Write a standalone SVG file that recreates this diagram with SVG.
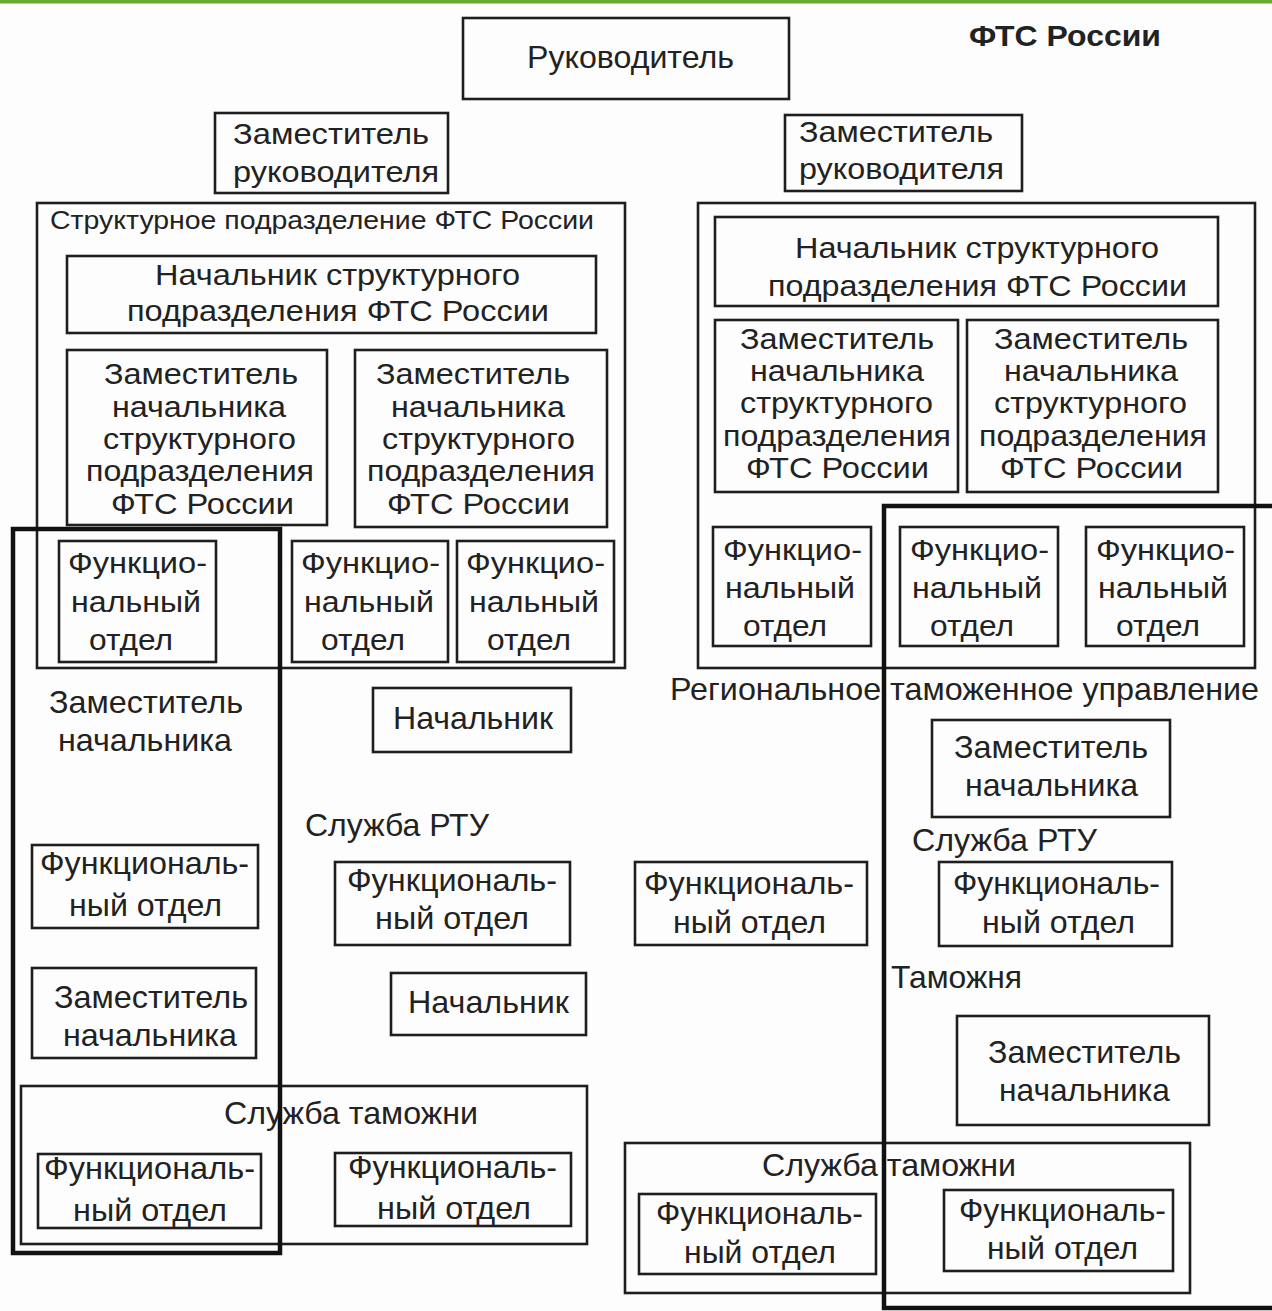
<svg xmlns="http://www.w3.org/2000/svg" width="1272" height="1311" viewBox="0 0 1272 1311">
<style>
.bg{fill:#fdfdfd}
.box{fill:none;stroke:#1e1e1e;stroke-width:2.6}
.thick{fill:none;stroke:#111;stroke-width:4.5}
text{font-family:"Liberation Sans",Arial,sans-serif;font-size:30px;fill:#222}
.big{font-size:32px}
.sm{font-size:25px}
.b{font-weight:bold;font-size:30px}
</style>
<rect class="bg" x="0" y="0" width="1272" height="1311"/>
<rect x="0" y="0" width="1272" height="3.5" fill="#69a934"/>

<g id="title"><text class="b" x="969" y="46" textLength="192" lengthAdjust="spacingAndGlyphs">ФТС России</text></g>

<g id="head">
<rect class="box" x="463" y="18" width="326" height="81"/>
<text class="big" x="527" y="68" textLength="207" lengthAdjust="spacingAndGlyphs">Руководитель</text>
</g>

<g id="deputy-left">
<rect class="box" x="215" y="113" width="233" height="80"/>
<text x="233" y="144" textLength="196" lengthAdjust="spacingAndGlyphs">Заместитель</text>
<text x="233" y="182" textLength="206" lengthAdjust="spacingAndGlyphs">руководителя</text>
</g>

<g id="deputy-right">
<rect class="box" x="785" y="115" width="237" height="76"/>
<text x="799" y="142" textLength="194" lengthAdjust="spacingAndGlyphs">Заместитель</text>
<text x="799" y="179" textLength="205" lengthAdjust="spacingAndGlyphs">руководителя</text>
</g>

<g id="struct-left">
<rect class="box" x="37" y="203" width="588" height="465"/>
<text class="sm" x="50" y="229" textLength="544" lengthAdjust="spacingAndGlyphs">Структурное подразделение ФТС России</text>
</g>

<g id="chief-struct-left">
<rect class="box" x="67" y="256" width="529" height="77"/>
<text x="155" y="285" textLength="365" lengthAdjust="spacingAndGlyphs">Начальник структурного</text>
<text x="127" y="321" textLength="422" lengthAdjust="spacingAndGlyphs">подразделения ФТС России</text>
</g>

<g id="dep-struct-left-1">
<rect class="box" x="67" y="350" width="260" height="175"/>
<text x="104" y="384" textLength="194" lengthAdjust="spacingAndGlyphs">Заместитель</text>
<text x="112" y="417" textLength="174" lengthAdjust="spacingAndGlyphs">начальника</text>
<text x="103" y="449" textLength="193" lengthAdjust="spacingAndGlyphs">структурного</text>
<text x="86" y="481" textLength="228" lengthAdjust="spacingAndGlyphs">подразделения</text>
<text x="111" y="514" textLength="183" lengthAdjust="spacingAndGlyphs">ФТС России</text>
</g>

<g id="dep-struct-left-2">
<rect class="box" x="355" y="350" width="252" height="177"/>
<text x="376" y="384" textLength="194" lengthAdjust="spacingAndGlyphs">Заместитель</text>
<text x="391" y="417" textLength="174" lengthAdjust="spacingAndGlyphs">начальника</text>
<text x="382" y="449" textLength="193" lengthAdjust="spacingAndGlyphs">структурного</text>
<text x="367" y="481" textLength="228" lengthAdjust="spacingAndGlyphs">подразделения</text>
<text x="387" y="514" textLength="183" lengthAdjust="spacingAndGlyphs">ФТС России</text>
</g>

<g id="func-left-1">
<rect class="box" x="59" y="541" width="157" height="121"/>
<text x="68" y="573" textLength="139" lengthAdjust="spacingAndGlyphs">Функцио-</text>
<text x="71" y="612" textLength="130" lengthAdjust="spacingAndGlyphs">нальный</text>
<text x="89" y="650" textLength="84" lengthAdjust="spacingAndGlyphs">отдел</text>
</g>
<g id="func-left-2">
<rect class="box" x="292" y="541" width="156" height="121"/>
<text x="301" y="573" textLength="139" lengthAdjust="spacingAndGlyphs">Функцио-</text>
<text x="304" y="612" textLength="130" lengthAdjust="spacingAndGlyphs">нальный</text>
<text x="321" y="650" textLength="84" lengthAdjust="spacingAndGlyphs">отдел</text>
</g>
<g id="func-left-3">
<rect class="box" x="457" y="541" width="157" height="121"/>
<text x="466" y="573" textLength="139" lengthAdjust="spacingAndGlyphs">Функцио-</text>
<text x="469" y="612" textLength="130" lengthAdjust="spacingAndGlyphs">нальный</text>
<text x="487" y="650" textLength="84" lengthAdjust="spacingAndGlyphs">отдел</text>
</g>

<g id="struct-right">
<rect class="box" x="698" y="203" width="557" height="465"/>
</g>

<g id="chief-struct-right">
<rect class="box" x="715" y="217" width="503" height="89"/>
<text x="795" y="258" textLength="364" lengthAdjust="spacingAndGlyphs">Начальник структурного</text>
<text x="768" y="296" textLength="419" lengthAdjust="spacingAndGlyphs">подразделения ФТС России</text>
</g>

<g id="dep-struct-right-1">
<rect class="box" x="715" y="320" width="243" height="172"/>
<text x="740" y="349" textLength="194" lengthAdjust="spacingAndGlyphs">Заместитель</text>
<text x="750" y="381" textLength="174" lengthAdjust="spacingAndGlyphs">начальника</text>
<text x="740" y="413" textLength="193" lengthAdjust="spacingAndGlyphs">структурного</text>
<text x="723" y="446" textLength="228" lengthAdjust="spacingAndGlyphs">подразделения</text>
<text x="746" y="478" textLength="183" lengthAdjust="spacingAndGlyphs">ФТС России</text>
</g>

<g id="dep-struct-right-2">
<rect class="box" x="967" y="320" width="251" height="172"/>
<text x="994" y="349" textLength="194" lengthAdjust="spacingAndGlyphs">Заместитель</text>
<text x="1004" y="381" textLength="174" lengthAdjust="spacingAndGlyphs">начальника</text>
<text x="994" y="413" textLength="193" lengthAdjust="spacingAndGlyphs">структурного</text>
<text x="979" y="446" textLength="228" lengthAdjust="spacingAndGlyphs">подразделения</text>
<text x="1000" y="478" textLength="183" lengthAdjust="spacingAndGlyphs">ФТС России</text>
</g>

<g id="func-right-1">
<rect class="box" x="713" y="527" width="158" height="119"/>
<text x="723" y="560" textLength="139" lengthAdjust="spacingAndGlyphs">Функцио-</text>
<text x="725" y="598" textLength="130" lengthAdjust="spacingAndGlyphs">нальный</text>
<text x="743" y="636" textLength="84" lengthAdjust="spacingAndGlyphs">отдел</text>
</g>
<g id="func-right-2">
<rect class="box" x="900" y="527" width="158" height="119"/>
<text x="910" y="560" textLength="139" lengthAdjust="spacingAndGlyphs">Функцио-</text>
<text x="912" y="598" textLength="130" lengthAdjust="spacingAndGlyphs">нальный</text>
<text x="930" y="636" textLength="84" lengthAdjust="spacingAndGlyphs">отдел</text>
</g>
<g id="func-right-3">
<rect class="box" x="1086" y="527" width="158" height="119"/>
<text x="1096" y="560" textLength="139" lengthAdjust="spacingAndGlyphs">Функцио-</text>
<text x="1098" y="598" textLength="130" lengthAdjust="spacingAndGlyphs">нальный</text>
<text x="1116" y="636" textLength="84" lengthAdjust="spacingAndGlyphs">отдел</text>
</g>

<g id="rtu-deputy-label">
<text class="big" x="49" y="713" textLength="194" lengthAdjust="spacingAndGlyphs">Заместитель</text>
<text class="big" x="58" y="751" textLength="174" lengthAdjust="spacingAndGlyphs">начальника</text>
</g>

<g id="rtu-chief">
<rect class="box" x="373" y="688" width="198" height="64"/>
<text class="big" x="393" y="729" textLength="160" lengthAdjust="spacingAndGlyphs">Начальник</text>
</g>

<g id="rtu-service-label"><text class="big" x="305" y="836" textLength="184" lengthAdjust="spacingAndGlyphs">Служба РТУ</text></g>

<g id="func-lc-1">
<rect class="box" x="32" y="845" width="226" height="83"/>
<text class="big" x="40" y="874" textLength="209" lengthAdjust="spacingAndGlyphs">Функциональ-</text>
<text class="big" x="69" y="916" textLength="153" lengthAdjust="spacingAndGlyphs">ный отдел</text>
</g>

<g id="func-c-1">
<rect class="box" x="335" y="862" width="235" height="83"/>
<text class="big" x="347" y="891" textLength="210" lengthAdjust="spacingAndGlyphs">Функциональ-</text>
<text class="big" x="375" y="929" textLength="154" lengthAdjust="spacingAndGlyphs">ный отдел</text>
</g>

<g id="customs-deputy-left">
<rect class="box" x="32" y="968" width="224" height="90"/>
<text class="big" x="54" y="1008" textLength="194" lengthAdjust="spacingAndGlyphs">Заместитель</text>
<text class="big" x="63" y="1046" textLength="174" lengthAdjust="spacingAndGlyphs">начальника</text>
</g>

<g id="customs-chief">
<rect class="box" x="391" y="973" width="195" height="62"/>
<text class="big" x="408" y="1013" textLength="161" lengthAdjust="spacingAndGlyphs">Начальник</text>
</g>

<g id="customs-service-left">
<rect class="box" x="21" y="1086" width="566" height="158"/>
<text class="big" x="224" y="1124" textLength="254" lengthAdjust="spacingAndGlyphs">Служба таможни</text>
</g>
<g id="func-csl-1">
<rect class="box" x="38" y="1154" width="223" height="74"/>
<text class="big" x="44" y="1179" textLength="211" lengthAdjust="spacingAndGlyphs">Функциональ-</text>
<text class="big" x="73" y="1221" textLength="154" lengthAdjust="spacingAndGlyphs">ный отдел</text>
</g>
<g id="func-csl-2">
<rect class="box" x="335" y="1153" width="236" height="73"/>
<text class="big" x="348" y="1178" textLength="209" lengthAdjust="spacingAndGlyphs">Функциональ-</text>
<text class="big" x="377" y="1219" textLength="154" lengthAdjust="spacingAndGlyphs">ный отдел</text>
</g>

<g id="rtu-label"><text class="big" x="670" y="700" textLength="589" lengthAdjust="spacingAndGlyphs">Региональное таможенное управление</text></g>

<g id="rtu-deputy-right">
<rect class="box" x="932" y="720" width="238" height="97"/>
<text class="big" x="954" y="758" textLength="194" lengthAdjust="spacingAndGlyphs">Заместитель</text>
<text class="big" x="965" y="796" textLength="173" lengthAdjust="spacingAndGlyphs">начальника</text>
</g>

<g id="rtu-service-right-label"><text class="big" x="912" y="851" textLength="185" lengthAdjust="spacingAndGlyphs">Служба РТУ</text></g>

<g id="func-rtu-right">
<rect class="box" x="939" y="862" width="233" height="84"/>
<text class="big" x="953" y="894" textLength="207" lengthAdjust="spacingAndGlyphs">Функциональ-</text>
<text class="big" x="982" y="933" textLength="153" lengthAdjust="spacingAndGlyphs">ный отдел</text>
</g>

<g id="func-mid">
<rect class="box" x="635" y="862" width="232" height="83"/>
<text class="big" x="644" y="894" textLength="210" lengthAdjust="spacingAndGlyphs">Функциональ-</text>
<text class="big" x="673" y="933" textLength="153" lengthAdjust="spacingAndGlyphs">ный отдел</text>
</g>

<g id="customs-label"><text class="big" x="891" y="988" textLength="131" lengthAdjust="spacingAndGlyphs">Таможня</text></g>

<g id="customs-deputy-right">
<rect class="box" x="957" y="1016" width="252" height="109"/>
<text class="big" x="988" y="1063" textLength="193" lengthAdjust="spacingAndGlyphs">Заместитель</text>
<text class="big" x="999" y="1101" textLength="171" lengthAdjust="spacingAndGlyphs">начальника</text>
</g>

<g id="customs-service-right">
<rect class="box" x="625" y="1143" width="565" height="150"/>
<text class="big" x="762" y="1176" textLength="254" lengthAdjust="spacingAndGlyphs">Служба таможни</text>
</g>
<g id="func-csr-1">
<rect class="box" x="639" y="1194" width="237" height="80"/>
<text class="big" x="656" y="1224" textLength="207" lengthAdjust="spacingAndGlyphs">Функциональ-</text>
<text class="big" x="684" y="1263" textLength="152" lengthAdjust="spacingAndGlyphs">ный отдел</text>
</g>
<g id="func-csr-2">
<rect class="box" x="944" y="1190" width="229" height="81"/>
<text class="big" x="959" y="1221" textLength="207" lengthAdjust="spacingAndGlyphs">Функциональ-</text>
<text class="big" x="987" y="1259" textLength="151" lengthAdjust="spacingAndGlyphs">ный отдел</text>
</g>

<g id="frames">
<rect class="thick" x="13" y="529" width="267" height="724"/>
<path class="thick" d="M1274,506 H884 V1308 H1274"/>
</g>
<g id="connectors"/>
</svg>
